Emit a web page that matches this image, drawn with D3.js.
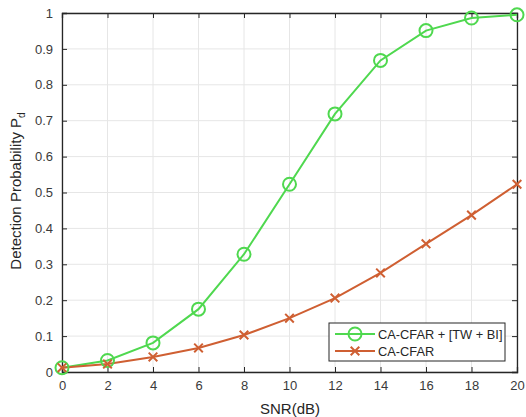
<!DOCTYPE html>
<html><head><meta charset="utf-8">
<script src="https://cdn.jsdelivr.net/npm/d3@7"></script>
<style>body{margin:0;background:#fff}svg{display:block}</style>
</head><body>
<script>
const snr = [0,2,4,6,8,10,12,14,16,18,20];
const proposed = [0.012,0.032,0.081,0.175,0.328,0.523,0.719,0.868,0.951,0.986,0.995];
const cacfar = [0.012,0.022,0.042,0.067,0.103,0.150,0.206,0.276,0.357,0.437,0.523];
const xTicks = [0,2,4,6,8,10,12,14,16,18,20];
const yTicks = [0,0.1,0.2,0.3,0.4,0.5,0.6,0.7,0.8,0.9,1];
const seriesNames = ["CA-CFAR + [TW + BI]","CA-CFAR"];

const W=526,H=417;
const m={l:62,r:9,t:13,b:45};
const svg=d3.select("body").append("svg").attr("width",W).attr("height",H);
const x=d3.scaleLinear().domain([0,20]).range([m.l,W-m.r]);
const y=d3.scaleLinear().domain([0,1]).range([H-m.b,m.t]);
const font="Arial, 'Liberation Sans', sans-serif";
const green="#4fd84f", orange="#cf5f32";

// grid
svg.append("g").selectAll("line").data(xTicks).join("line")
  .attr("x1",d=>x(d)).attr("x2",d=>x(d)).attr("y1",y(0)).attr("y2",y(1))
  .attr("stroke","#e6e6e6").attr("stroke-width",1);
svg.append("g").selectAll("line").data(yTicks).join("line")
  .attr("y1",d=>y(d)).attr("y2",d=>y(d)).attr("x1",x(0)).attr("x2",x(20))
  .attr("stroke","#e6e6e6").attr("stroke-width",1);

// axes
const ax=d3.axisBottom(x).tickValues(xTicks).tickSize(-5).tickPadding(9).tickFormat(d3.format("d"));
const gx=svg.append("g").attr("transform",`translate(0,${y(0)})`).call(ax);
const gxt=svg.append("g").attr("transform",`translate(0,${y(1)})`).call(d3.axisTop(x).tickValues(xTicks).tickSize(-5).tickFormat(""));
const ay=d3.axisLeft(y).tickValues(yTicks).tickSize(-5).tickPadding(9).tickFormat(d=>d===0||d===1?String(d):d3.format(".1f")(d));
const gy=svg.append("g").attr("transform",`translate(${x(0)},0)`).call(ay);
const gyr=svg.append("g").attr("transform",`translate(${x(20)},0)`).call(d3.axisRight(y).tickValues(yTicks).tickSize(-5).tickFormat(""));
[gx,gxt,gy,gyr].forEach(g=>{
  g.select(".domain").attr("stroke","#262626").attr("stroke-width",1.3);
  g.selectAll(".tick line").attr("stroke","#262626");
  g.selectAll("text").attr("fill","#3a3a3a").style("font-family",font).style("font-size","13px");
});

// lines
const line=d3.line().x((d,i)=>x(snr[i])).y(d=>y(d));
svg.append("path").datum(proposed).attr("d",line).attr("fill","none").attr("stroke",green).attr("stroke-width",2);
svg.append("path").datum(cacfar).attr("d",line).attr("fill","none").attr("stroke",orange).attr("stroke-width",2);
svg.append("g").selectAll("circle").data(proposed).join("circle")
  .attr("cx",(d,i)=>x(snr[i])).attr("cy",d=>y(d)).attr("r",6.5)
  .attr("fill","none").attr("stroke",green).attr("stroke-width",2);
const cross=d3.symbol().type(d3.symbolTimes).size(50);
svg.append("g").selectAll("path").data(cacfar).join("path")
  .attr("d",cross).attr("transform",(d,i)=>`translate(${x(snr[i])},${y(d)})`)
  .attr("fill","none").attr("stroke",orange).attr("stroke-width",2);

// legend
const lg=svg.append("g").attr("transform","translate(329,323)");
lg.append("rect").attr("width",176).attr("height",38).attr("fill","#fff").attr("stroke","#262626").attr("stroke-width",1);
[[green,"circle"],[orange,"cross"]].forEach((s,i)=>{
  const yy=11+i*17;
  lg.append("line").attr("x1",6).attr("x2",46).attr("y1",yy).attr("y2",yy).attr("stroke",s[0]).attr("stroke-width",2);
  if(s[1]==="circle") lg.append("circle").attr("cx",26).attr("cy",yy).attr("r",6.5).attr("fill","none").attr("stroke",s[0]).attr("stroke-width",2);
  else lg.append("path").attr("d",cross).attr("transform",`translate(26,${yy})`).attr("fill","none").attr("stroke",s[0]).attr("stroke-width",2);
  lg.append("text").attr("x",49).attr("y",yy+4.5).text(seriesNames[i]).attr("fill","#262626")
    .style("font-family",font).style("font-size","12.8px");
});

// labels
svg.append("text").attr("x",290).attr("y",414).attr("text-anchor","middle").attr("fill","#262626")
  .style("font-family",font).style("font-size","15px").text("SNR(dB)");
const yl=svg.append("text").attr("transform","translate(21,191) rotate(-90)").attr("text-anchor","middle").attr("fill","#262626")
  .style("font-family",font).style("font-size","15px");
yl.append("tspan").text("Detection Probability P");
yl.append("tspan").attr("dy",4).style("font-size","10px").text("d");
</script>
</body></html>
